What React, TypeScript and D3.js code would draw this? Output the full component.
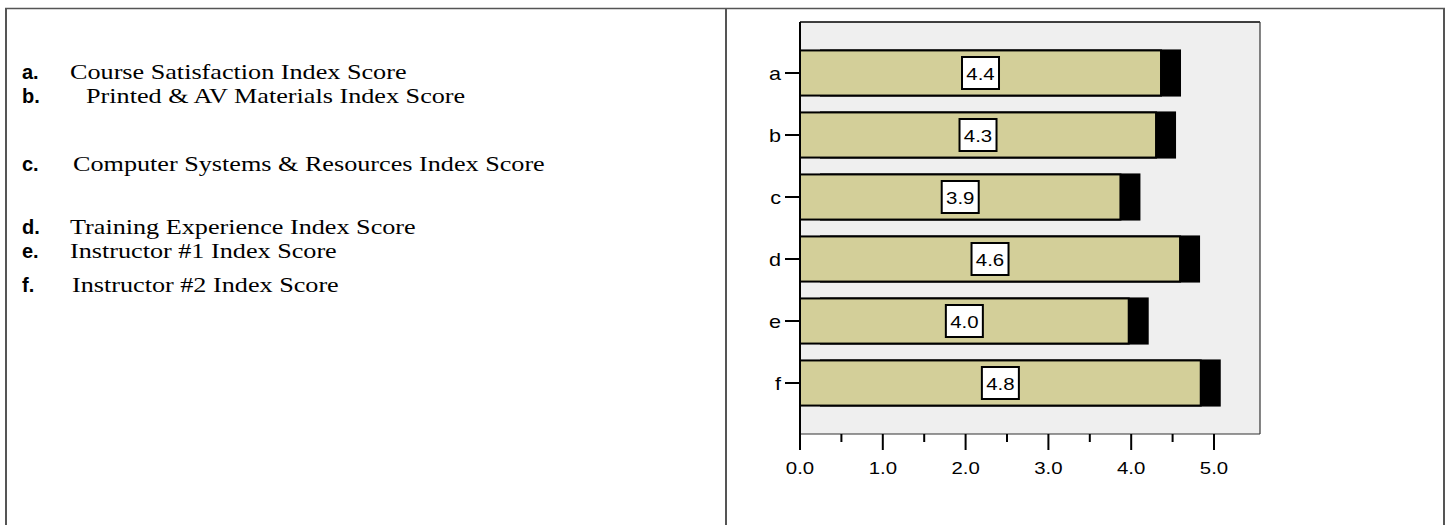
import React from "react";
import * as d3 from "d3";

const categories = ["a", "b", "c", "d", "e", "f"];
const values = [4.36, 4.3, 3.87, 4.59, 3.97, 4.84];
const valueLabels = ["4.4", "4.3", "3.9", "4.6", "4.0", "4.8"];
const xTicks = [0, 1, 2, 3, 4, 5];
const xMinorTicks = [0.5, 1.5, 2.5, 3.5, 4.5];
const legendLetters = ["a.", "b.", "c.", "d.", "e.", "f."];
const legendTexts = [
  "Course Satisfaction Index Score",
  "Printed & AV Materials Index Score",
  "Computer Systems & Resources Index Score",
  "Training Experience Index Score",
  "Instructor #1 Index Score",
  "Instructor #2 Index Score",
];

const W = 1446;
const H = 525;
const plot = { left: 800, top: 22, right: 1260, bottom: 434 };
const legendBaselines = [79, 103, 171, 234, 258, 292];
const legendTextX = [70, 86, 73, 70, 70, 72];
const SX = 1.2; // horizontal stretch of the original rendering

export default function App() {
  const x = d3.scaleLinear().domain([0, 5]).range([800, 1214]);
  const y = d3
    .scaleBand<string>()
    .domain(categories)
    .range([plot.top, plot.bottom])
    .paddingInner(0.24)
    .paddingOuter(0.4425);
  const bw = y.bandwidth();
  const shadow = 20;
  const sans = "'Liberation Sans', Arial, sans-serif";
  const serif = "'Liberation Serif', 'Times New Roman', serif";

  return (
    <div style={{ position: "absolute", left: 0, top: 0 }}>
      <svg width={W} height={H} style={{ display: "block" }}>
        <rect x={0} y={0} width={W} height={H} fill="#ffffff" />
        {/* table borders */}
        <line x1={5} x2={1445} y1={8.5} y2={8.5} stroke="#555" strokeWidth={1.5} />
        <line x1={6} x2={6} y1={8} y2={H} stroke="#555" strokeWidth={2} />
        <line x1={726} x2={726} y1={8} y2={H} stroke="#555" strokeWidth={2} />
        <line x1={1444} x2={1444} y1={8} y2={H} stroke="#555" strokeWidth={2} />

        {/* legend text */}
        {legendLetters.map((l, i) => (
          <g key={l}>
            <text x={22} y={legendBaselines[i]} fontFamily={sans} fontWeight="bold" fontSize={20} fill="#000">
              {l}
            </text>
            <text
              transform={`translate(${legendTextX[i]},${legendBaselines[i]}) scale(${SX - 0.01},1)`}
              fontFamily={serif}
              fontSize={22}
              fill="#000"
            >
              {legendTexts[i]}
            </text>
          </g>
        ))}

        {/* plot background */}
        <rect
          x={plot.left}
          y={plot.top}
          width={plot.right - plot.left}
          height={plot.bottom - plot.top}
          fill="#efefef"
          stroke="none"
        />
        <line x1={plot.left} x2={plot.right} y1={plot.top} y2={plot.top} stroke="#000" strokeWidth={1.5} />
        <line x1={plot.right} x2={plot.right} y1={plot.top} y2={plot.bottom} stroke="#333" strokeWidth={1.2} />
        <line x1={plot.left} x2={plot.right} y1={plot.bottom} y2={plot.bottom} stroke="#333" strokeWidth={1.2} />

        {/* bars */}
        {categories.map((c, i) => {
          const y0 = y(c) as number;
          const x1 = x(values[i]);
          return (
            <g key={c}>
              <rect x={x(0) + shadow} y={y0} width={x1 - x(0)} height={bw} fill="#000" />
              <rect
                x={x(0)}
                y={y0 + 1}
                width={x1 - x(0)}
                height={bw - 2}
                fill="#d3cf99"
                stroke="#000"
                strokeWidth={2}
              />
            </g>
          );
        })}

        {/* value label boxes */}
        {categories.map((c, i) => {
          const cx = (x(0) + x(values[i])) / 2;
          const cy = (y(c) as number) + bw / 2;
          return (
            <g key={"l" + c}>
              <rect x={cx - 18.5} y={cy - 16} width={37} height={32} fill="#fff" stroke="#000" strokeWidth={2} />
              <text
                transform={`translate(${cx},${cy + 7}) scale(${SX},1)`}
                textAnchor="middle"
                fontFamily={sans}
                fontSize={17}
                fill="#000"
              >
                {valueLabels[i]}
              </text>
            </g>
          );
        })}

        {/* y axis */}
        <line x1={plot.left} x2={plot.left} y1={plot.top} y2={plot.bottom + 16} stroke="#000" strokeWidth={2} />
        {categories.map((c) => {
          const cy = (y(c) as number) + bw / 2;
          return (
            <g key={"t" + c}>
              <line x1={785} x2={plot.left} y1={cy} y2={cy} stroke="#000" strokeWidth={2} />
              <text
                transform={`translate(781,${cy + 7}) scale(${SX},1)`}
                textAnchor="end"
                fontFamily={sans}
                fontSize={18}
                fill="#000"
              >
                {c}
              </text>
            </g>
          );
        })}

        {/* x axis */}
        {xTicks.map((t) => (
          <g key={"x" + t}>
            <line x1={x(t)} x2={x(t)} y1={plot.bottom} y2={plot.bottom + 16} stroke="#000" strokeWidth={2} />
            <text
              transform={`translate(${x(t)},474) scale(${SX},1)`}
              textAnchor="middle"
              fontFamily={sans}
              fontSize={17}
              fill="#000"
            >
              {d3.format(".1f")(t)}
            </text>
          </g>
        ))}
        {xMinorTicks.map((t) => (
          <line key={"m" + t} x1={x(t)} x2={x(t)} y1={plot.bottom} y2={plot.bottom + 8} stroke="#000" strokeWidth={2} />
        ))}
      </svg>
    </div>
  );
}
